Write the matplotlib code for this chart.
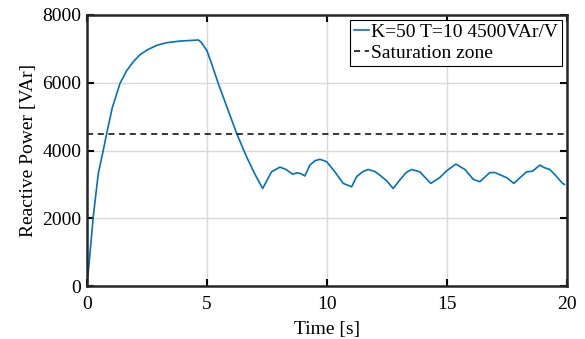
import matplotlib.pyplot as plt
from matplotlib.ticker import MultipleLocator

# values
time_s = [0.0, 0.125, 0.26, 0.47, 0.68, 0.82, 1.05, 1.375, 1.65, 1.93, 2.2, 2.49, 2.9, 3.32, 3.9, 4.4, 4.64,
          4.75, 4.99, 5.2, 5.47, 5.85, 6.24, 6.65, 7.0, 7.32, 7.45, 7.69, 8.04, 8.3, 8.57,
          8.74, 8.9, 9.08, 9.29, 9.5, 9.71, 9.99, 10.3, 10.68, 11.03, 11.24, 11.5, 11.72,
          12.0, 12.21, 12.5, 12.76, 13.04, 13.3, 13.53, 13.875, 14.1, 14.33, 14.7, 14.99,
          15.375, 15.75, 16.1, 16.375, 16.79, 17.0, 17.49, 17.79, 18.05, 18.32, 18.57,
          18.875, 19.04, 19.29, 19.55, 19.82, 19.9]
q_var = [0, 970, 2040, 3320, 4010, 4500, 5250, 5980, 6350, 6620, 6820, 6960, 7100, 7180, 7230, 7250, 7260,
         7200, 6960, 6550, 5980, 5250, 4500, 3815, 3300, 2880, 3050, 3370, 3510, 3440, 3300,
         3340, 3320, 3250, 3570, 3700, 3740, 3670, 3400, 3030, 2930, 3230, 3380, 3440,
         3380, 3270, 3100, 2880, 3130, 3350, 3440, 3370, 3200, 3030, 3200, 3400,
         3600, 3440, 3150, 3080, 3350, 3350, 3200, 3030, 3200, 3370, 3390,
         3570, 3500, 3440, 3250, 3030, 3000]
saturation = 4500

plt.rcParams['font.family'] = ['Liberation Serif', 'DejaVu Serif']

fig = plt.figure(figsize=(5.85, 3.39), dpi=100)
ax = fig.add_axes([0.1487, 0.156, 0.8203, 0.8])

ax.plot(time_s, q_var, color='#0072BD', lw=1.2, label='K=50 T=10 4500VAr/V')
ax.axhline(saturation, color='black', lw=1.1, ls=(0, (4, 3)), label='Saturation zone')

ax.set_xlim(0, 20)
ax.set_ylim(0, 8000)
ax.xaxis.set_major_locator(MultipleLocator(5))
ax.yaxis.set_major_locator(MultipleLocator(2000))
ax.grid(True, color='#d9d9d9', lw=1.0)
ax.set_axisbelow(True)
for s in ax.spines.values():
    s.set_linewidth(1.8)
    s.set_color('#262626')
ax.tick_params(direction='in', top=True, right=True, length=5, width=1.5, labelsize=14)
ax.tick_params(axis='x', pad=7)
ax.tick_params(axis='y', pad=4)

ax.set_xlabel('Time [s]', fontsize=14, labelpad=6)
ax.set_ylabel('Reactive Power [VAr]', fontsize=14, labelpad=4)

leg = ax.legend(loc='upper right', fontsize=14, handlelength=0.8, handletextpad=0.1,
                borderpad=0.2, borderaxespad=0.25, labelspacing=0.15, fancybox=False,
                framealpha=1, edgecolor='black')
leg.get_frame().set_linewidth(0.8)

fig.savefig('out.png', dpi=100)
